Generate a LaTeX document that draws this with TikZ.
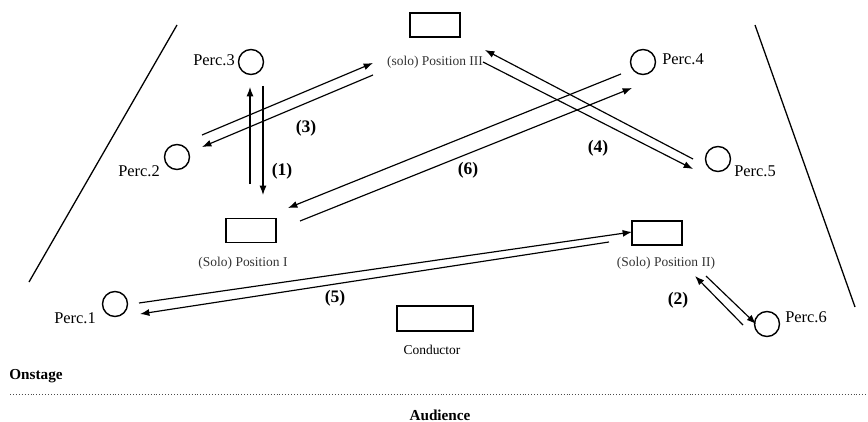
\documentclass[tikz,border=0pt]{standalone}
\usepackage{fontspec}
\setmainfont{Liberation Serif}
\usetikzlibrary{arrows.meta,positioning}
\tikzstyle{player} = [circle, draw, line width=1.2pt, minimum size=0.75cm, inner sep=0pt]
\tikzstyle{stand} = [rectangle, draw, line width=1.5pt, minimum width=1.5cm,
    minimum height=0.72cm, inner sep=0pt]
\tikzstyle{playername} = [font=\fontsize{14}{16}\selectfont, inner sep=0pt]
\tikzstyle{standname} = [font=\fontsize{11.5}{13}\selectfont, text=black!80, inner sep=0pt]
\tikzstyle{walkno} = [font=\bfseries\fontsize{15}{17}\selectfont, inner sep=0pt]
\tikzstyle{sidename} = [font=\bfseries\fontsize{13}{15}\selectfont, inner sep=0pt]
\tikzstyle{line} = [draw, line width=1pt, -{Latex[length=8pt,width=6pt]}]
\tikzstyle{wall} = [draw, line width=1.1pt]

\begin{document}
\begin{tikzpicture}[x=0.03cm, y=-0.03cm]
        \useasboundingbox (0,0) rectangle (868,422);
        % Place nodes

        % Stands for the soloist and the conductor
        \node [stand] (pos3) at (435,25) {};
        \node [standname] (pos3t) at (435,62) {(solo) Position III};
        \node [stand] (pos1) at (251,230.5) {};
        \node [standname] (pos1t) at (243,263) {(Solo) Position I};
        \node [stand] (pos2) at (657,233) {};
        \node [standname] (pos2t) at (666,263) {(Solo) Position II)};
        \node [stand, minimum width=2.28cm, minimum height=0.75cm] (cond) at (435,318.5) {};
        \node [standname, text=black] (condt) at (432,350) {Conductor};

        % Percussionists
        \node [player] (perc1) at (115,304) {};
        \node [playername] (perc1t) at (75,318) {Perc.1};
        \node [player] (perc2) at (177,157) {};
        \node [playername] (perc2t) at (139,171) {Perc.2};
        \node [player] (perc3) at (251,62) {};
        \node [playername] (perc3t) at (214,60) {Perc.3};
        \node [player] (perc4) at (643,62) {};
        \node [playername] (perc4t) at (683,59) {Perc.4};
        \node [player] (perc5) at (718,159) {};
        \node [playername] (perc5t) at (755,171) {Perc.5};
        \node [player] (perc6) at (767,324) {};
        \node [playername] (perc6t) at (806,317) {Perc.6};

        % Order of the solo walks
        \node [walkno] (n1) at (282,171) {(1)};
        \node [walkno] (n2) at (678,300) {(2)};
        \node [walkno] (n3) at (306,128) {(3)};
        \node [walkno] (n4) at (598,148) {(4)};
        \node [walkno] (n5) at (335,298) {(5)};
        \node [walkno] (n6) at (468,170) {(6)};

        % Stage and audience
        \node [sidename] (onst) at (36,376) {Onstage};
        \node [sidename] (aud) at (440,415) {Audience};

        % End points of the walks
        \coordinate (w1a) at (250,184); \coordinate (w1b) at (250,87);
        \coordinate (w1c) at (263,86);  \coordinate (w1d) at (263,195);
        \coordinate (w2a) at (743,325); \coordinate (w2b) at (695,276);
        \coordinate (w2c) at (706,276); \coordinate (w2d) at (756,324);
        \coordinate (w3a) at (202,135); \coordinate (w3b) at (373,63);
        \coordinate (w3c) at (373,75);  \coordinate (w3d) at (202,147);
        \coordinate (w4a) at (693,159); \coordinate (w4b) at (485,50);
        \coordinate (w4c) at (483,62);  \coordinate (w4d) at (693,169);
        \coordinate (w5a) at (139,303); \coordinate (w5b) at (632,232);
        \coordinate (w5c) at (609,242); \coordinate (w5d) at (140,314);
        \coordinate (w6a) at (300,221); \coordinate (w6b) at (632,88);
        \coordinate (w6c) at (621,74);  \coordinate (w6d) at (288,208);

        % Stage edges
        \coordinate (edgeL1) at (177,25); \coordinate (edgeL2) at (29,282);
        \coordinate (edgeR1) at (755,25); \coordinate (edgeR2) at (855,307);
        \coordinate (front1) at (10,394); \coordinate (front2) at (868,394);

        % Draw edges
        \path [line] (w1a) -- (w1b);
        \path [line] (w1c) -- (w1d);
        \path [line] (w2a) -- (w2b);
        \path [line] (w2c) -- (w2d);
        \path [line] (w3a) -- (w3b);
        \path [line] (w3c) -- (w3d);
        \path [line] (w4a) -- (w4b);
        \path [line] (w4c) -- (w4d);
        \path [line] (w5a) -- (w5b);
        \path [line] (w5c) -- (w5d);
        \path [line] (w6a) -- (w6b);
        \path [line] (w6c) -- (w6d);
        \path [wall] (edgeL1) -- (edgeL2);
        \path [wall] (edgeR1) -- (edgeR2);
        \path [draw, black!70, line width=0.6pt, dash pattern=on 0.6pt off 1.9pt] (front1) -- (front2);

      \end{tikzpicture}
\end{document}
